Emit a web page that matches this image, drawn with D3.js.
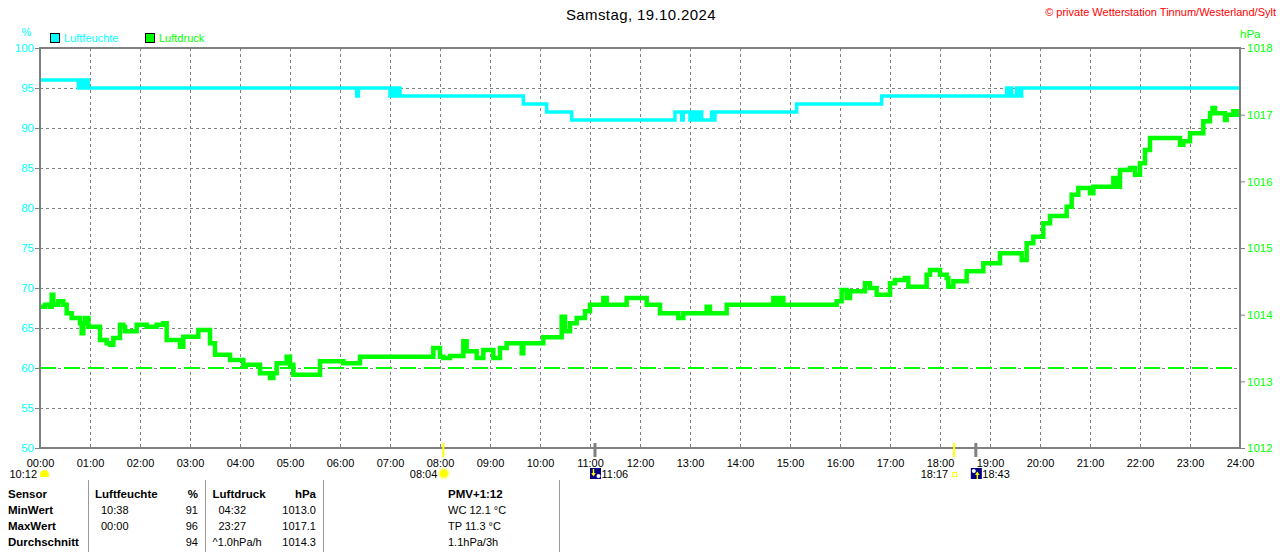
<!DOCTYPE html>
<html>
<head>
<meta charset="utf-8">
<script src="https://cdn.jsdelivr.net/npm/d3@7"></script>
<style>
body { margin: 0; background: #fff; }
svg text { font-family: "Liberation Sans", Arial, sans-serif; }
</style>
</head>
<body>
<div id="chart"></div>
<script>
let title = "Samstag, 19.10.2024";
let copyright = "\u00a9 private Wetterstation Tinnum/Westerland/Sylt";
let seriesNames = ["Luftfeuchte", "Luftdruck"];
let hourLabels = ["00:00","01:00","02:00","03:00","04:00","05:00","06:00","07:00","08:00","09:00","10:00","11:00","12:00",
    "13:00","14:00","15:00","16:00","17:00","18:00","19:00","20:00","21:00","22:00","23:00","24:00"];
let pctTicks = [50, 55, 60, 65, 70, 75, 80, 85, 90, 95, 100];
let hpaTicks = [1012, 1013, 1014, 1015, 1016, 1017, 1018];
let refPressure = 1013.2;

// luftdruck, minutes since midnight -> hPa
let pTime = [0, 6, 12, 14, 16, 22, 28, 32, 38, 44, 48, 50, 52, 54, 58, 68, 72, 80, 84, 88, 94, 96, 100, 102, 112, 116, 124,
    128, 140, 148, 152, 164, 168, 172, 188, 190, 200, 204, 210, 228, 244, 264, 276, 280, 284, 292, 296, 300, 304, 332, 336,
    360, 364, 380, 384, 468, 472, 480, 484, 492, 504, 508, 512, 520, 524, 532, 540, 544, 552, 560, 576, 578, 580, 600, 604,
    624, 626, 630, 636, 644, 654, 660, 676, 680, 700, 704, 724, 728, 740, 744, 764, 766, 772, 800, 804, 820, 824, 876, 880,
    884, 888, 892, 948, 956, 962, 968, 972, 988, 990, 994, 996, 1002, 1004, 1018, 1020, 1026, 1038, 1042, 1062, 1064, 1068,
    1076, 1080, 1088, 1090, 1096, 1108, 1112, 1124, 1132, 1148, 1152, 1176, 1178, 1184, 1192, 1200, 1204, 1212, 1228, 1232,
    1238, 1246, 1258, 1260, 1264, 1284, 1288, 1292, 1296, 1308, 1314, 1320, 1326, 1332, 1364, 1368, 1372, 1380, 1392, 1396,
    1402, 1404, 1407, 1410, 1420, 1422, 1424, 1432, 1436, 1440];
let pVal = [1014.12, 1014.15, 1014.12, 1014.30, 1014.15, 1014.20, 1014.15, 1014.02, 1013.95, 1013.95, 1013.87, 1013.72,
    1013.87, 1013.95, 1013.82, 1013.82, 1013.62, 1013.57, 1013.55, 1013.65, 1013.65, 1013.85, 1013.82, 1013.75, 1013.75,
    1013.85, 1013.85, 1013.82, 1013.85, 1013.87, 1013.62, 1013.62, 1013.52, 1013.67, 1013.67, 1013.77, 1013.77, 1013.57,
    1013.40, 1013.32, 1013.25, 1013.12, 1013.05, 1013.12, 1013.27, 1013.27, 1013.37, 1013.25, 1013.10, 1013.10, 1013.30,
    1013.30, 1013.27, 1013.27, 1013.37, 1013.37, 1013.50, 1013.37, 1013.35, 1013.38, 1013.38, 1013.60, 1013.45, 1013.45,
    1013.35, 1013.47, 1013.47, 1013.35, 1013.50, 1013.57, 1013.57, 1013.42, 1013.57, 1013.57, 1013.66, 1013.66, 1013.97,
    1013.75, 1013.87, 1013.95, 1014.05, 1014.15, 1014.25, 1014.15, 1014.15, 1014.25, 1014.25, 1014.15, 1014.15, 1014.02,
    1014.02, 1013.95, 1014.02, 1014.12, 1014.02, 1014.02, 1014.15, 1014.15, 1014.25, 1014.15, 1014.25, 1014.15, 1014.15,
    1014.20, 1014.37, 1014.25, 1014.35, 1014.35, 1014.47, 1014.47, 1014.40, 1014.40, 1014.30, 1014.30, 1014.47, 1014.52,
    1014.55, 1014.42, 1014.42, 1014.60, 1014.67, 1014.67, 1014.60, 1014.55, 1014.42, 1014.50, 1014.50, 1014.65, 1014.65,
    1014.77, 1014.77, 1014.92, 1014.92, 1014.82, 1015.07, 1015.17, 1015.17, 1015.37, 1015.48, 1015.48, 1015.62, 1015.80,
    1015.90, 1015.90, 1015.82, 1015.92, 1015.92, 1016.05, 1015.92, 1016.17, 1016.20, 1016.10, 1016.27, 1016.47, 1016.65,
    1016.65, 1016.55, 1016.60, 1016.72, 1016.72, 1016.90, 1016.90, 1017.02, 1017.10, 1017.02, 1017.02, 1016.92, 1017.00,
    1017.05, 1017.00, 1017.00];

// luftfeuchte, step changes
let hTime = [0, 46, 48, 50, 52, 54, 56, 58, 380, 382, 420, 422, 424, 426, 428, 430, 432, 580, 608, 638, 762, 770, 772, 780,
    784, 788, 790, 794, 806, 808, 810, 908, 1010, 1160, 1162, 1164, 1166, 1172, 1174, 1178, 1440];
let hVal = [96, 95, 96, 95, 96, 95, 96, 95, 94, 95, 94, 95, 94, 95, 94, 95, 94, 93, 92, 91, 92, 91, 92, 91,
    92, 91, 92, 91, 92, 91, 92, 93, 94, 95, 94, 95, 94, 95, 94, 95, 95];

// sonne / mond
let sunTimes = [484, 1097];
let sunLabels = ["08:04", "18:17"];
let moonTimes = [666, 1123];
let moonLabels = ["11:06", "18:43"];
let dayLength = "10:12";

// tabelle
let rowLabels = ["Sensor", "MinWert", "MaxWert", "Durchschnitt"];
let humTimes = ["Luftfeuchte", "10:38", "00:00", ""];
let humValues = ["%", "91", "96", "94"];
let pressTimes = ["Luftdruck", "04:32", "23:27", "^1.0hPa/h"];
let pressValues = ["hPa", "1013.0", "1017.1", "1014.3"];
let extraLines = ["PMV+1:12", "WC 12.1 \u00b0C", "TP 11.3 \u00b0C", "1.1hPa/3h"];

let cyan = "#00ffff", green = "#00ff00", gray = "#808080";
let width = 1280, height = 552;
let margin = {top: 48, right: 40, bottom: 104, left: 40};

let svg = d3.select("#chart").append("svg")
    .attr("width", width)
    .attr("height", height);

let x = d3.scaleLinear().domain([0, 1440]).range([margin.left, width - margin.right]);
let yL = d3.scaleLinear().domain([50, 100]).range([height - margin.bottom, margin.top]);
let yR = d3.scaleLinear().domain([1012, 1018]).range([height - margin.bottom, margin.top]);

// header
svg.append("text").attr("x", 641).attr("y", 19.5).attr("text-anchor", "middle")
    .style("font-size", "15px").style("letter-spacing", "0.4px").attr("fill", "#000").text(title);
svg.append("text").attr("x", 1276).attr("y", 16).attr("text-anchor", "end")
    .style("font-size", "11px").attr("fill", "#ff0000").text(copyright);
svg.append("text").attr("x", 26.5).attr("y", 36).attr("text-anchor", "middle")
    .style("font-size", "11px").attr("fill", cyan).text("%");
svg.append("text").attr("x", 1240).attr("y", 37.5)
    .style("font-size", "11.5px").attr("fill", green).text("hPa");

let legend = svg.selectAll(".legend").data(seriesNames).enter().append("g")
    .attr("transform", (d, i) => "translate(" + (50 + i * 95) + ",33)");
legend.append("rect").attr("x", 0.5).attr("y", 0.5).attr("width", 9).attr("height", 9)
    .attr("fill", (d, i) => i == 0 ? cyan : green).attr("stroke", "#000");
legend.append("text").attr("x", 14).attr("y", 9)
    .style("font-size", "11px").attr("fill", (d, i) => i == 0 ? cyan : green).text(d => d);

// grid
svg.append("g").selectAll("line").data(pctTicks.slice(1, -1)).enter().append("line")
    .attr("x1", x(0)).attr("x2", x(1440))
    .attr("y1", d => yL(d) + 0.5).attr("y2", d => yL(d) + 0.5)
    .attr("stroke", gray).attr("stroke-dasharray", "3,3");
svg.append("g").selectAll("line").data(hourLabels.slice(1, -1)).enter().append("line")
    .attr("x1", (d, i) => x((i + 1) * 60) + 0.5).attr("x2", (d, i) => x((i + 1) * 60) + 0.5)
    .attr("y1", yL(100)).attr("y2", yL(50))
    .attr("stroke", gray).attr("stroke-dasharray", "3,3");

// reference pressure
svg.append("line")
    .attr("x1", x(0)).attr("x2", x(1440))
    .attr("y1", yR(refPressure)).attr("y2", yR(refPressure))
    .attr("stroke", green).attr("stroke-width", 2).attr("stroke-dasharray", "16,8");

svg.append("clipPath").attr("id", "plot").append("rect")
    .attr("x", x(0)).attr("y", yL(100)).attr("width", x(1440) - x(0)).attr("height", yL(50) - yL(100));

let humPoints = hTime.map((t, i) => [t, hVal[i]]);
let pressPoints = pTime.map((t, i) => [t, pVal[i]]);

svg.append("path")
    .datum(humPoints)
    .attr("clip-path", "url(#plot)")
    .attr("fill", "none").attr("stroke", cyan).attr("stroke-width", 3.5)
    .attr("d", d3.line().x(d => x(d[0])).y(d => yL(d[1])).curve(d3.curveStepAfter));

svg.append("path")
    .datum(pressPoints)
    .attr("clip-path", "url(#plot)")
    .attr("fill", "none").attr("stroke", green).attr("stroke-width", 4.5)
    .attr("d", d3.line().x(d => x(d[0])).y(d => yR(d[1])).curve(d3.curveStepAfter));

// axes
let axL = svg.append("g").attr("transform", "translate(" + x(0) + ",0)")
    .call(d3.axisLeft(yL).tickValues(pctTicks).tickSize(5).tickPadding(1));
axL.select(".domain").remove();
axL.selectAll("line").attr("stroke", gray);
axL.selectAll("text").attr("fill", cyan).style("font-size", "11.5px").attr("font-family", null);

let axR = svg.append("g").attr("transform", "translate(" + x(1440) + ",0)")
    .call(d3.axisRight(yR).tickValues(hpaTicks).tickSize(5).tickPadding(2).tickFormat(d3.format("d")));
axR.select(".domain").remove();
axR.selectAll("line").attr("stroke", gray);
axR.selectAll("text").attr("fill", green).style("font-size", "11.5px").attr("font-family", null);

let axB = svg.append("g").attr("transform", "translate(0," + yL(50) + ")")
    .call(d3.axisBottom(x).tickValues(d3.range(0, 1441, 60)).tickSize(0).tickPadding(11)
        .tickFormat((d, i) => hourLabels[i]));
axB.select(".domain").remove();
axB.selectAll("text").attr("fill", "#000").style("font-size", "11px").attr("font-family", null);

// frame
svg.append("rect")
    .attr("x", x(0)).attr("y", yL(100))
    .attr("width", x(1440) - x(0)).attr("height", yL(50) - yL(100))
    .attr("fill", "none").attr("stroke", gray).attr("stroke-width", 2);

// sun + moon marks
let sunG = svg.selectAll(".sun").data(sunTimes).enter().append("g");
sunG.append("line")
    .attr("x1", d => x(d)).attr("x2", d => x(d)).attr("y1", 443).attr("y2", 457)
    .attr("stroke", "#ffff00").attr("stroke-width", 2);
sunG.append("text")
    .attr("x", d => x(d) - 6).attr("y", 477.5).attr("text-anchor", "end")
    .style("font-size", "11px").attr("fill", "#000").text((d, i) => sunLabels[i]);
sunG.filter((d, i) => i == 0).each(function (d) {
    d3.select(this).append("circle").attr("cx", x(d) + 0.5).attr("cy", 473.5).attr("r", 6).attr("fill", "#ffffa8");
    d3.select(this).append("circle").attr("cx", x(d) + 0.5).attr("cy", 473.5).attr("r", 4).attr("fill", "#ffff00");
});
sunG.filter((d, i) => i == 1).append("rect")
    .attr("x", d => x(d) - 1.5).attr("y", 472.5).attr("width", 4).attr("height", 4)
    .attr("fill", "none").attr("stroke", "#ffff00");

let moonG = svg.selectAll(".moon").data(moonTimes).enter().append("g");
moonG.append("line")
    .attr("x1", d => x(d)).attr("x2", d => x(d)).attr("y1", 443).attr("y2", 457)
    .attr("stroke", gray).attr("stroke-width", 3);
moonG.append("rect")
    .attr("x", d => x(d) - 5).attr("y", 468).attr("width", 11).attr("height", 11).attr("fill", "#000080");
moonG.append("circle")
    .attr("cx", (d, i) => i == 0 ? x(d) + 3.5 : x(d) - 2).attr("cy", (d, i) => i == 0 ? 476 : 471)
    .attr("r", 2).attr("fill", "#fff");
moonG.append("path")
    .attr("d", (d, i) => {
        let cx = x(d) + (i == 0 ? -1.5 : 1.5);
        return i == 0
            ? "M" + (cx - 0.7) + ",469 h1.4 v4 h1.6 l-2.3,3.5 l-2.3,-3.5 h1.6 Z"
            : "M" + (cx - 0.7) + ",479 h1.4 v-4 h1.6 l-2.3,-3.5 l-2.3,3.5 h1.6 Z";
    })
    .attr("fill", "#ffff00");
moonG.append("text")
    .attr("x", d => x(d) + 6.5).attr("y", 477.5)
    .style("font-size", "11px").attr("fill", "#000").text((d, i) => moonLabels[i]);

svg.append("text").attr("x", 37).attr("y", 477.5).attr("text-anchor", "end")
    .style("font-size", "11px").attr("fill", "#000").text(dayLength);
svg.append("path")
    .attr("d", "M40,477 L40,474 Q40.5,470 44.5,470 Q48.5,470 49,474 L49,477 Z")
    .attr("fill", "#ffff00");

// table
let rowY = [497.5, 514, 530, 546];
[88.5, 205.5, 323.5, 559.5].forEach(xx => {
    svg.append("line").attr("x1", xx).attr("x2", xx).attr("y1", 480).attr("y2", 552)
        .attr("stroke", "#999");
});

function column(values, xPos, anchor, boldFirst, allBold) {
    svg.append("g").selectAll("text").data(values).enter().append("text")
        .attr("x", xPos).attr("y", (d, i) => rowY[i])
        .attr("text-anchor", anchor)
        .style("font-size", (d, i) => (allBold || (boldFirst && i == 0)) ? "11.5px" : "11px")
        .style("font-weight", (d, i) => (allBold || (boldFirst && i == 0)) ? "bold" : "normal")
        .attr("fill", "#000")
        .attr("dx", (d, i) => (i > 0 && anchor == "start" && !allBold && d.indexOf(":") == 2) ? 6 : 0)
        .text(d => d);
}
column(rowLabels, 8, "start", false, true);
column(humTimes, 95, "start", true, false);
column(humValues, 198, "end", true, false);
column(pressTimes, 212.5, "start", true, false);
column(pressValues, 316, "end", true, false);
column(extraLines, 448, "start", true, false);
</script>
</body>
</html>
